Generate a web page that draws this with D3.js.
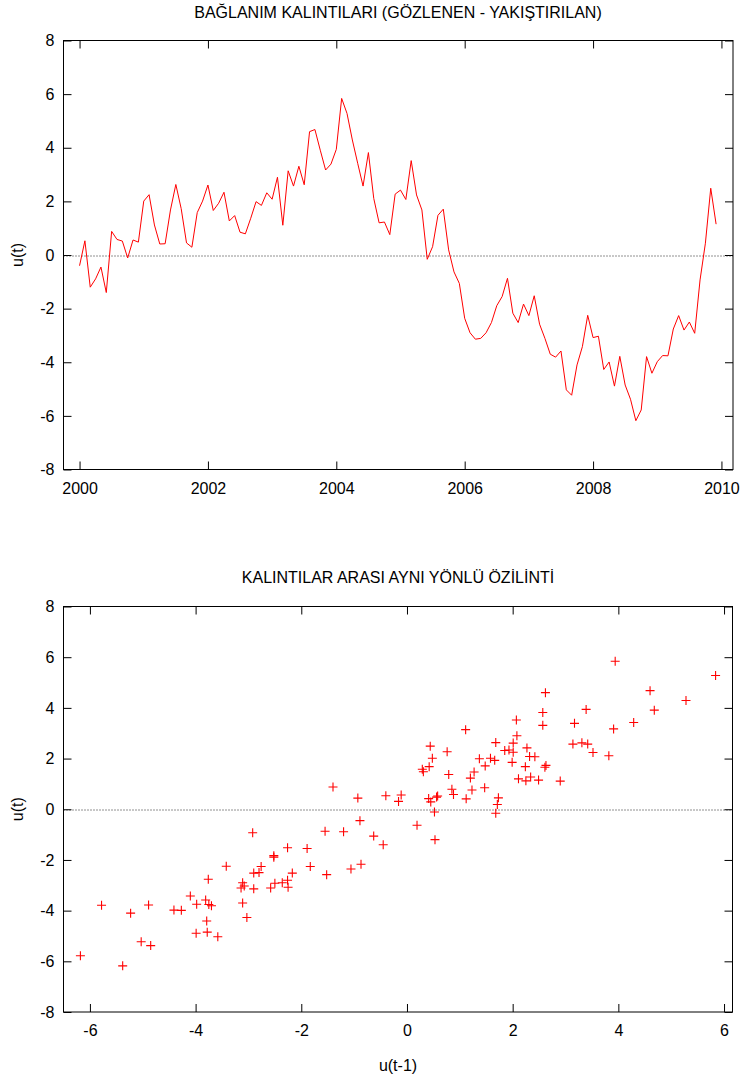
<!DOCTYPE html>
<html>
<head>
<meta charset="utf-8">
<title>Kalıntılar</title>
<script src="https://cdn.jsdelivr.net/npm/d3@7"></script>
<style>
	body { margin: 0; background: #fff; }
	svg text { font-family: "Liberation Sans", Arial, sans-serif; fill: #000; }
	.tick line { stroke: #000; }
</style>
</head>
<body>
<svg id="chart"></svg>
<script>

// monthly residuals, Jan 2000 .. Dec 2009
var startYear = 2000;
var residuals = [
	-0.40, 0.53, -1.20, -0.89, -0.45, -1.40, 0.88, 0.58, 0.52, -0.11, 0.56, 0.48,
	2.01, 2.25, 1.12, 0.41, 0.42, 1.68, 2.63, 1.73, 0.45, 0.29, 1.58, 2.01,
	2.61, 1.66, 1.93, 2.34, 1.27, 1.47, 0.85, 0.79, 1.37, 1.99, 1.85, 2.32,
	2.08, 2.90, 1.11, 3.14, 2.57, 3.31, 2.62, 4.60, 4.68, 3.91, 3.17, 3.39,
	3.94, 5.84, 5.28, 4.29, 3.42, 2.57, 3.82, 2.11, 1.20, 1.23, 0.76, 2.27,
	2.42, 2.07, 3.52, 2.24, 1.68, -0.16, 0.31, 1.48, 1.71, 0.19, -0.63, -1.06,
	-2.36, -2.90, -3.14, -3.11, -2.90, -2.52, -1.89, -1.55, -0.87, -2.17, -2.52, -1.83,
	-2.26, -1.52, -2.58, -3.11, -3.70, -3.81, -3.58, -5.03, -5.23, -4.10, -3.42, -2.25,
	-3.08, -3.03, -4.27, -3.99, -4.89, -3.78, -4.85, -5.38, -6.18, -5.78, -3.79, -4.41,
	-3.98, -3.75, -3.76, -2.76, -2.26, -2.80, -2.50, -2.92, -0.93, 0.44, 2.49, 1.15
];

var yearTicks = [2000, 2002, 2004, 2006, 2008, 2010];
var uTicks = [-8, -6, -4, -2, 0, 2, 4, 6, 8];
var lagTicks = [-6, -4, -2, 0, 2, 4, 6];

var title1 = "BAĞLANIM KALINTILARI (GÖZLENEN - YAKIŞTIRILAN)";
var title2 = "KALINTILAR ARASI AYNI YÖNLÜ ÖZİLİNTİ";

var W = 745, H = 1078;
var svg = d3.select("#chart").attr("width", W).attr("height", H);

var series = residuals.map(function(v, i) { return {t: startYear + i / 12, u: v}; });
var lagged = [];
for (var i = 1; i < residuals.length; i++) lagged.push({prev: residuals[i - 1], u: residuals[i]});

var tickLen = 8, fs = 16;
var plain = function(d) { return String(d); };   // hyphen minus like gnuplot

function frame(g, x, y, w, h, xTicks, yTicks) {
	g.append("g").attr("transform", "translate(0," + h + ")")
		.call(d3.axisBottom(x).tickValues(xTicks).tickSize(-tickLen).tickPadding(13).tickFormat(plain))
		.call(function(a) { a.select(".domain").remove(); a.selectAll("text").attr("font-size", fs); });
	g.append("g")
		.call(d3.axisTop(x).tickValues(xTicks).tickSize(-tickLen).tickFormat(""))
		.call(function(a) { a.select(".domain").remove(); });
	g.append("g")
		.call(d3.axisLeft(y).tickValues(yTicks).tickSize(-tickLen).tickPadding(9).tickFormat(plain))
		.call(function(a) { a.select(".domain").remove(); a.selectAll("text").attr("font-size", fs); });
	g.append("g").attr("transform", "translate(" + w + ",0)")
		.call(d3.axisRight(y).tickValues(yTicks).tickSize(-tickLen).tickFormat(""))
		.call(function(a) { a.select(".domain").remove(); });

	// dotted zero line
	g.append("line")
		.attr("x1", 0).attr("x2", w)
		.attr("y1", Math.round(y(0)) + 0.5).attr("y2", Math.round(y(0)) + 0.5)
		.attr("stroke", "#222").attr("stroke-dasharray", "1,2");

	g.append("rect").attr("x", 0).attr("y", 0).attr("width", w).attr("height", h)
		.attr("fill", "none").attr("stroke", "#000");
}

// ---- upper panel: residual series
var p1 = {x: 63.5, y: 40.5, w: 669.5, h: 429};
var g1 = svg.append("g").attr("transform", "translate(" + p1.x + "," + p1.y + ")");
var x1 = d3.scaleLinear().domain([1999.75, 2010.18]).range([0, p1.w]);
var y1 = d3.scaleLinear().domain([-8, 8]).range([p1.h, 0]);

frame(g1, x1, y1, p1.w, p1.h, yearTicks, uTicks);

g1.append("path")
	.datum(series)
	.attr("fill", "none")
	.attr("stroke", "#ff0000")
	.attr("stroke-width", 1)
	.attr("d", d3.line().x(function(d) { return x1(d.t); }).y(function(d) { return y1(d.u); }));

svg.append("text").attr("x", 398).attr("y", 18).attr("text-anchor", "middle")
	.attr("font-size", fs).text(title1);
svg.append("text").attr("transform", "translate(23," + (p1.y + p1.h / 2) + ") rotate(-90)")
	.attr("text-anchor", "middle").attr("font-size", fs).text("u(t)");

// ---- lower panel: u(t) vs u(t-1)
var p2 = {x: 63.5, y: 606.5, w: 669, h: 405.5};
var g2 = svg.append("g").attr("transform", "translate(" + p2.x + "," + p2.y + ")");
var x2 = d3.scaleLinear().domain([-6.5, 6.16]).range([0, p2.w]);
var y2 = d3.scaleLinear().domain([-8, 8]).range([p2.h, 0]);

frame(g2, x2, y2, p2.w, p2.h, lagTicks, uTicks);

g2.selectAll("path.pt")
	.data(lagged)
	.enter()
	.append("path")
	.attr("class", "pt")
	.attr("transform", function(d) { return "translate(" + x2(d.prev) + "," + y2(d.u) + ")"; })
	.attr("d", "M-4.5,0H4.5M0,-4.5V4.5")
	.attr("stroke", "#ff0000")
	.attr("stroke-width", 1.1);

svg.append("text").attr("x", 398).attr("y", 583).attr("text-anchor", "middle")
	.attr("font-size", fs).text(title2);
svg.append("text").attr("transform", "translate(23," + (p2.y + p2.h / 2) + ") rotate(-90)")
	.attr("text-anchor", "middle").attr("font-size", fs).text("u(t)");
svg.append("text").attr("x", 398).attr("y", 1071).attr("text-anchor", "middle")
	.attr("font-size", fs).text("u(t-1)");

</script>
</body>
</html>
